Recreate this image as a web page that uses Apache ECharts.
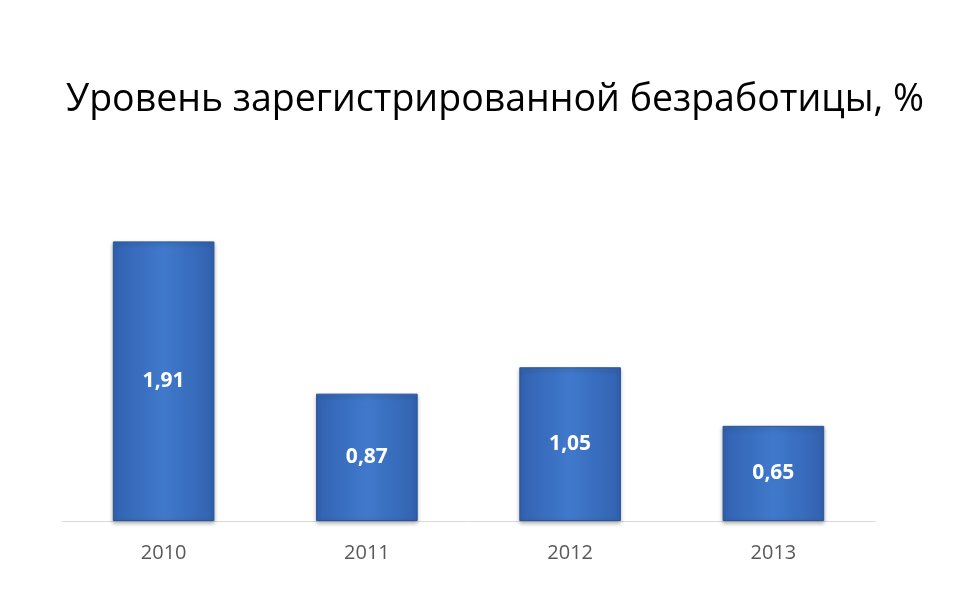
<!DOCTYPE html>
<html>
<head>
<meta charset="utf-8">
<script src="https://cdn.jsdelivr.net/npm/echarts@6/dist/echarts.min.js"></script>
<style>html,body{margin:0;background:#fff}#c{width:960px;height:600px}</style>
</head>
<body>
<div id="c"></div>
<script>
// Уровень зарегистрированной безработицы по годам
const years = ['2010', '2011', '2012', '2013'];
const values = [1.91, 0.87, 1.05, 0.65];

const chart = echarts.init(document.getElementById('c'));
chart.setOption({
  title: {
    text: 'Уровень зарегистрированной безработицы, %',
    left: 490, top: 76, textAlign: 'center',
    textStyle: { fontFamily: 'Open Sans', fontSize: 37.5, fontWeight: 'normal', color: '#000' },
  },
  grid: { left: 62, right: 85, top: 155, bottom: 79 },
  xAxis: {
    type: 'category', data: years,
    axisLine: { lineStyle: { color: '#d9d9d9' } },
    axisTick: { show: false },
    axisLabel: { fontFamily: 'Open Sans', fontSize: 20, color: '#595959', margin: 22 },
  },
  yAxis: { type: 'value', min: 0, max: 2.5, show: false, splitLine: { show: false } },
  series: [{
    type: 'bar', data: values, barWidth: '50%',
    itemStyle: {
      color: new echarts.graphic.LinearGradient(0, 0, 1, 0, [
        { offset: 0, color: '#3262b0' },
        { offset: 0.5, color: '#4079cc' },
        { offset: 1, color: '#3262b0' },
      ]),
      borderColor: '#2a5699', borderWidth: 1,
      shadowColor: 'rgba(0,0,0,0.3)', shadowBlur: 4, shadowOffsetY: 2,
    },
    label: {
      show: true, position: 'inside', color: '#fff',
      fontFamily: 'Open Sans', fontSize: 21, fontWeight: 'bold',
      formatter: p => p.value.toFixed(2).replace('.', ','),
    },
  }],
});
</script>
</body>
</html>
